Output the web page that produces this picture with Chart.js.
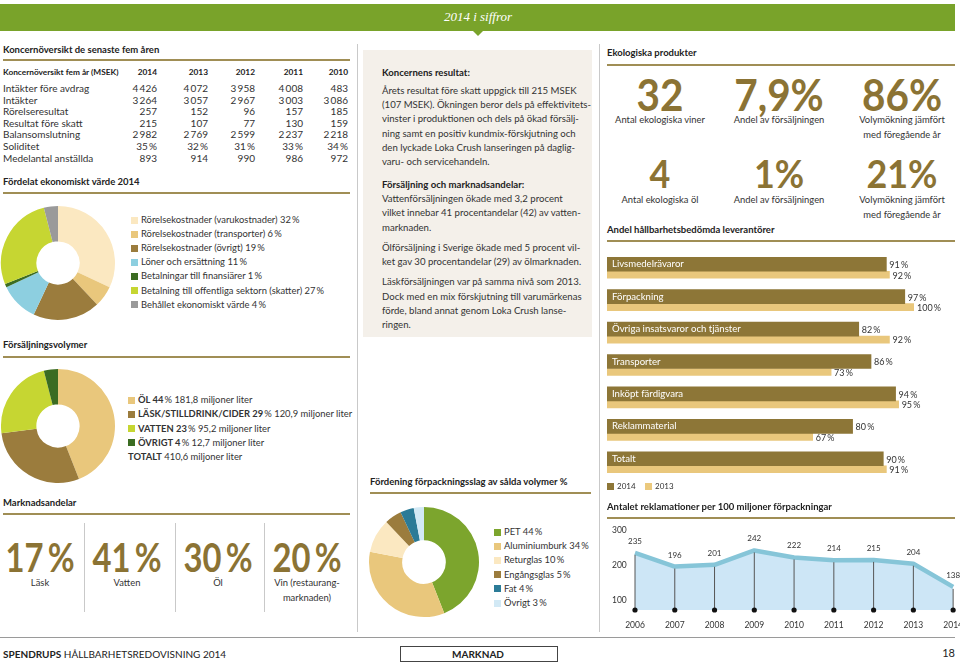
<!DOCTYPE html>
<html lang="sv">
<head>
<meta charset="utf-8">
<title>2014 i siffror</title>
<script src="https://cdn.jsdelivr.net/npm/chart.js@4.4.1/dist/chart.umd.min.js"></script>
<style>
  body { margin: 0; width: 960px; height: 663px; position: relative; overflow: hidden; background: #fff;
         font-family: Lato, "Open Sans", sans-serif; color: #333; }
  .l, .c, .r { position: absolute; white-space: nowrap; line-height: 1.2; }
  .l { transform: translateY(-50%); }
  .c { transform: translate(-50%, -50%); text-align: center; }
  .r { transform: translate(-100%, -50%); text-align: right; }
  .band { position: absolute; left: 0; top: 4px; width: 955px; height: 27px; background: #79a32a; }
  .notch { position: absolute; left: 473px; top: 31px; width: 0; height: 0;
           border-left: 5px solid transparent; border-right: 5px solid transparent; border-top: 5px solid #79a32a; }
  .vline { position: absolute; top: 44px; width: 1px; height: 588px; background: #c9c9c9; }
  .rule { position: absolute; height: 1.5px; background: #a08e55; }
  .h { font-weight: 700; font-size: 9.5px; color: #222; }
  .box { position: absolute; left: 363px; top: 50px; width: 229px; height: 287px; background: #f4f0ea; }
  .txt { font-size: 9.6px; color: #333; }
  .big { font-weight: 700; color: #8b7334; line-height: 1; }
  .big.narrow { transform: translate(-50%, -50%) scaleX(0.8); }
  .big.eco { transform: translate(-50%, -50%) scaleX(0.92); }
  .cap { font-size: 9.4px; color: #333; line-height: 14.5px; }
  .sq { position: absolute; width: 7px; height: 7px; }
  canvas { position: absolute; }
</style>
</head>
<body>
<div class="band"></div>
<div class="notch"></div>
<div class="c" style="left:478px;top:17px;color:#fff;font-family:'Liberation Serif',serif;font-style:italic;font-size:13px;">2014 i siffror</div>

<div class="vline" style="left:357px"></div>
<div class="vline" style="left:599px"></div>

<!-- left column -->
<div class="l h" style="left:3px;top:50px">Koncernöversikt de senaste fem åren</div>
<div class="rule" style="left:3px;top:59px;width:347px"></div>
<div id="table"></div>

<div class="l h" style="left:3px;top:182px">Fördelat ekonomiskt värde 2014</div>
<div class="rule" style="left:3px;top:192px;width:347px"></div>
<canvas id="valueChart" width="116" height="120" style="left:0;top:203px"></canvas>
<div id="valueLegend"></div>

<div class="l h" style="left:3px;top:345px">Försäljningsvolymer</div>
<div class="rule" style="left:3px;top:356px;width:347px"></div>
<canvas id="volumeChart" width="116" height="120" style="left:0;top:366px"></canvas>
<div id="volumeLegend"></div>

<div class="l h" style="left:3px;top:503px">Marknadsandelar</div>
<div class="rule" style="left:3px;top:513px;width:347px"></div>
<div id="market"></div>

<!-- middle column -->
<div class="box"></div>
<div class="l txt" style="left:382px;top:73px;font-weight:700;color:#222">Koncernens resultat:</div>
<div id="para1"></div>
<div class="l txt" style="left:382px;top:185px;font-weight:700;color:#222">Försäljning och marknadsandelar:</div>
<div id="para2"></div>

<div class="l h" style="left:370px;top:482px">Fördening förpackningsslag av sålda volymer %</div>
<div class="rule" style="left:370px;top:492px;width:221px"></div>
<canvas id="packChart" width="116" height="120" style="left:366px;top:502px"></canvas>
<div id="packLegend"></div>

<!-- right column -->
<div class="l h" style="left:607px;top:53px">Ekologiska produkter</div>
<div class="rule" style="left:607px;top:64px;width:348px"></div>
<div id="eco"></div>

<div class="l h" style="left:607px;top:230px">Andel hållbarhetsbedömda leverantörer</div>
<div class="rule" style="left:607px;top:240px;width:348px"></div>
<canvas id="supplierChart" width="348" height="227" style="left:607px;top:255px"></canvas>
<div class="sq" style="left:607px;top:483px;background:#8d7637"></div>
<div class="l" style="left:617px;top:487px;font-size:8px">2014</div>
<div class="sq" style="left:645px;top:483px;background:#ebc97d"></div>
<div class="l" style="left:655px;top:487px;font-size:8px">2013</div>

<div class="l h" style="left:607px;top:507px">Antalet reklamationer per 100 miljoner förpackningar</div>
<div class="rule" style="left:607px;top:517px;width:348px"></div>
<canvas id="complaintChart" width="368" height="108" style="left:605px;top:522px"></canvas>

<!-- footer -->
<div style="position:absolute;left:0;top:637px;width:955px;height:1px;background:#9a9a9a"></div>
<div class="l" style="left:3px;top:654px;font-size:10px;color:#222"><b>SPENDRUPS</b> HÅLLBARHETSREDOVISNING 2014</div>
<div style="position:absolute;left:400px;top:646px;width:156px;height:14px;border:1px solid #444"></div>
<div class="c" style="left:478px;top:654px;font-size:10px;font-weight:700;color:#222">MARKNAD</div>
<div class="r" style="left:955px;top:653px;font-size:11px;color:#222">18</div>

<script>
// --- data ---
const tableYears = ["2014", "2013", "2012", "2011", "2010"];
const tableRows = ["Intäkter före avdrag", "Intäkter", "Rörelseresultat", "Resultat före skatt",
                   "Balansomslutning", "Soliditet", "Medelantal anställda"];
const tableValues = [
  ["4\u2009426", "4\u2009072", "3\u2009958", "4\u2009008", "483"],
  ["3\u2009264", "3\u2009057", "2\u2009967", "3\u2009003", "3\u2009086"],
  ["257", "152", "96", "157", "185"],
  ["215", "107", "77", "130", "159"],
  ["2\u2009982", "2\u2009769", "2\u2009599", "2\u2009237", "2\u2009218"],
  ["35\u2009%", "32\u2009%", "31\u2009%", "33\u2009%", "34\u2009%"],
  ["893", "914", "990", "986", "972"],
];

const valueNames = ["Rörelsekostnader (varukostnader)", "Rörelsekostnader (transporter)", "Rörelsekostnader (övrigt)",
                    "Löner och ersättning", "Betalningar till finansiärer", "Betalning till offentliga sektorn (skatter)",
                    "Behållet ekonomiskt värde"];
const valueShares = [32, 6, 19, 11, 1, 27, 4];

const volumeNames = ["ÖL", "LÄSK/STILLDRINK/CIDER", "VATTEN", "ÖVRIGT"];
const volumeShares = [44, 29, 23, 4];
const volumeLitres = ["181,8", "120,9", "95,2", "12,7"];
const volumeTotal = "410,6";

const packNames = ["PET", "Aluminiumburk", "Returglas", "Engångsglas", "Fat", "Övrigt"];
const packShares = [44, 34, 10, 5, 4, 3];

const marketShares = [17, 41, 30, 20];
const marketNames = ["Läsk", "Vatten", "Öl", "Vin (restaurang-<br>marknaden)"];

const ecoNumbers = ["32", "7,9%", "86%", "4", "1%", "21%"];
const ecoNames = ["Antal ekologiska viner", "Andel av försäljningen", "Volymökning jämfört<br>med föregående år",
                  "Antal ekologiska öl", "Andel av försäljningen", "Volymökning jämfört<br>med föregående år"];

const supplierCategories = ["Livsmedelrävaror", "Förpackning", "Övriga insatsvaror och tjänster", "Transporter",
                            "Inköpt färdigvara", "Reklammaterial", "Totalt"];
const supplier2014 = [91, 97, 82, 86, 94, 80, 90];
const supplier2013 = [92, 100, 92, 73, 95, 67, 91];

const complaintYears = ["2006", "2007", "2008", "2009", "2010", "2011", "2012", "2013", "2014"];
const complaints = [235, 196, 201, 242, 222, 214, 215, 204, 138];
const complaintTicks = [100, 200, 300];

const para1 = ["Årets resultat före skatt uppgick till 215 MSEK", "(107 MSEK). Ökningen beror dels på effektivitets-",
               "vinster i produktionen och dels på  ökad försälj-", "ning samt en positiv kundmix-förskjutning och",
               "den lyckade Loka Crush lanseringen på daglig-", "varu- och servicehandeln."];
const para2 = [["Vattenförsäljningen ökade med 3,2 procent", "vilket innebar 41 procentandelar (42) av vatten-", "marknaden."],
               ["Ölförsäljning i Sverige ökade med 5 procent vil-", "ket gav 30 procentandelar (29) av ölmarknaden."],
               ["Läskförsäljningen var på samma nivå som 2013.", "Dock med en mix förskjutning till varumärkenas",
                "förde, bland annat  genom Loka Crush lanse-", "ringen."]];

// --- colours ---
const gold = "#8d7637", lightGold = "#e9c77c", cream = "#fbe8c1", lime = "#c6d632", darkGreen = "#3b6c22";
const valueColors = [cream, lightGold, "#9b7c3d", "#8dcfe0", darkGreen, lime, "#9a9a9a"];
const volumeColors = [lightGold, "#9b7c3d", lime, darkGreen];
const packColors = ["#7ca52d", lightGold, cream, "#9b7c3d", "#2b7b97", "#d2e9f5"];

// --- text blocks ---
const pct = (v) => v + "\u2009%";
function add(parent, html) { document.getElementById(parent).insertAdjacentHTML("beforeend", html); }

add("table", `<div class="l" style="left:3px;top:73px;font-size:8.3px;font-weight:700;color:#222">Koncernöversikt fem år (MSEK)</div>`);
const colRight = [157, 208, 255, 303, 348];
tableYears.forEach((y, i) => add("table", `<div class="r" style="left:${colRight[i]}px;top:73px;font-size:8.3px;font-weight:700;color:#222">${y}</div>`));
tableRows.forEach((name, r) => {
  const top = 88 + r * 11.6;
  add("table", `<div class="l" style="left:3px;top:${top}px;font-size:10px">${name}</div>`);
  tableValues[r].forEach((v, i) => add("table", `<div class="r" style="left:${colRight[i]}px;top:${top}px;font-size:10px">${v}</div>`));
});

valueNames.forEach((name, i) => {
  const top = 220 + i * 14.1;
  add("valueLegend", `<div class="sq" style="left:131px;top:${top - 3.5}px;background:${valueColors[i]}"></div>
    <div class="l" style="left:141px;top:${top}px;font-size:9.4px">${name} ${pct(valueShares[i])}</div>`);
});

volumeNames.forEach((name, i) => {
  const top = 400 + i * 14.3;
  add("volumeLegend", `<div class="sq" style="left:128px;top:${top - 3.5}px;background:${volumeColors[i]}"></div>
    <div class="l" style="left:138px;top:${top}px;font-size:9.4px"><b>${name} ${volumeShares[i]}</b>\u2009% ${volumeLitres[i]} miljoner liter</div>`);
});
add("volumeLegend", `<div class="l" style="left:128px;top:457px;font-size:9.4px"><b>TOTALT</b> ${volumeTotal} miljoner liter</div>`);

packNames.forEach((name, i) => {
  const top = 532 + i * 14.2;
  add("packLegend", `<div class="sq" style="left:494px;top:${top - 3.5}px;background:${packColors[i]}"></div>
    <div class="l" style="left:504px;top:${top}px;font-size:9.4px">${name} ${pct(packShares[i])}</div>`);
});

const marketX = [40, 127, 218, 307];
marketShares.forEach((v, i) => {
  add("market", `<div class="c big narrow" style="left:${marketX[i]}px;top:556px;font-size:41px">${v}\u2009%</div>
    <div class="c cap" style="left:${marketX[i]}px;top:${i === 3 ? 590 : 583}px">${marketNames[i]}</div>`);
  if (i > 0) add("market", `<div style="position:absolute;left:${marketX[i] - 43}px;top:523px;width:1px;height:89px;background:#c9c9c9"></div>`);
});

const ecoX = [660, 779, 902];
ecoNumbers.forEach((v, i) => {
  const row = Math.floor(i / 3);
  const top = row ? 173 : 94;
  add("eco", `<div class="c big eco" style="left:${ecoX[i % 3]}px;top:${top}px;font-size:${row ? 39 : 44}px">${v}</div>
    <div class="c cap" style="left:${ecoX[i % 3]}px;top:${(row ? 200 : 120) + (ecoNames[i].includes("<br>") ? 7 : 0)}px">${ecoNames[i]}</div>`);
});

para1.forEach((line, i) => add("para1", `<div class="l txt" style="left:382px;top:${91 + i * 14.2}px">${line}</div>`));
let lineTop = 199;
para2.forEach((p) => {
  p.forEach((line) => { add("para2", `<div class="l txt" style="left:382px;top:${lineTop}px">${line}</div>`); lineTop += 14.4; });
  lineTop += 5.6;
});

// --- charts ---
Chart.defaults.font.family = "Lato, 'Open Sans', sans-serif";
Chart.defaults.color = "#333";
Chart.defaults.animation = false;

function donut(id, values, colors, radius, cutout) {
  new Chart(document.getElementById(id), {
    type: "doughnut",
    data: { datasets: [{ data: values, backgroundColor: colors, borderWidth: 0, hoverOffset: 0 }] },
    options: { responsive: false, radius, cutout, events: [],
               plugins: { legend: { display: false }, tooltip: { enabled: false } } },
  });
}
donut("valueChart", valueShares, valueColors, 57, 22);
donut("volumeChart", volumeShares, volumeColors, 57, 22);
donut("packChart", packShares, packColors, 55, 23);

const barLabels = {
  id: "barLabels",
  afterDatasetsDraw(chart) {
    const ctx = chart.ctx;
    ctx.save();
    ctx.textBaseline = "middle";
    chart.getDatasetMeta(0).data.forEach((bar, i) => {
      ctx.fillStyle = "#fff";
      ctx.font = "9.6px Lato";
      ctx.fillText(supplierCategories[i], chart.chartArea.left + 5, bar.y);
      ctx.fillStyle = "#333";
      ctx.font = "9px Lato";
      ctx.fillText(pct(supplier2014[i]), bar.x + 3, bar.y + 1);
    });
    chart.getDatasetMeta(1).data.forEach((bar, i) => {
      ctx.fillText(pct(supplier2013[i]), bar.x + 3, bar.y + 1);
    });
    ctx.restore();
  },
};

new Chart(document.getElementById("supplierChart"), {
  type: "bar",
  data: {
    labels: supplierCategories,
    datasets: [
      { label: "2014", data: supplier2014, backgroundColor: gold, barThickness: 14 },
      { label: "2013", data: supplier2013, backgroundColor: lightGold, barThickness: 7 },
    ],
  },
  options: {
    indexAxis: "y", responsive: false, events: [],
    layout: { padding: { right: 41 } },
    scales: { x: { display: false, min: 0, max: 100 }, y: { display: false } },
    plugins: { legend: { display: false }, tooltip: { enabled: false } },
  },
  plugins: [barLabels],
});

const dropLines = {
  id: "dropLines",
  afterDatasetsDraw(chart) {
    const ctx = chart.ctx;
    const bottom = chart.chartArea.bottom;
    ctx.save();
    chart.getDatasetMeta(0).data.forEach((pt, i) => {
      ctx.strokeStyle = "#555";
      ctx.lineWidth = 1;
      ctx.beginPath();
      ctx.moveTo(pt.x, pt.y + 2);
      ctx.lineTo(pt.x, bottom);
      ctx.stroke();
      ctx.fillStyle = "#111";
      ctx.beginPath();
      ctx.arc(pt.x, bottom, 2.6, 0, Math.PI * 2);
      ctx.fill();
      ctx.fillStyle = "#333";
      ctx.font = "8px Lato";
      ctx.textAlign = "center";
      ctx.fillText(complaints[i], pt.x, pt.y - 9);
    });
    ctx.restore();
  },
};

new Chart(document.getElementById("complaintChart"), {
  type: "line",
  data: {
    labels: complaintYears,
    datasets: [{ data: complaints, borderColor: "#86c5d8", borderWidth: 4.5, backgroundColor: "#cde6f6",
                 fill: "start", tension: 0, pointRadius: 0, borderJoinStyle: "round" }],
  },
  options: {
    responsive: false, events: [],
    layout: { padding: { left: 7, right: 8, top: 8, bottom: 0 } },
    scales: {
      x: { offset: false, grid: { display: false, drawTicks: false }, border: { display: false },
           ticks: { padding: 10, font: { size: 8.5 }, autoSkip: false, maxRotation: 0 },
           afterFit(scale) { scale.height = 20; } },
      y: { min: 72, max: 300, grid: { display: false, drawTicks: false }, border: { display: false },
           ticks: { crossAlign: "far", font: { size: 8.5 } },
           afterBuildTicks(scale) { scale.ticks = complaintTicks.map((value) => ({ value })); },
           afterFit(scale) { scale.width = 23; } },
    },
    plugins: { legend: { display: false }, tooltip: { enabled: false } },
  },
  plugins: [dropLines],
});
</script>
</body>
</html>
